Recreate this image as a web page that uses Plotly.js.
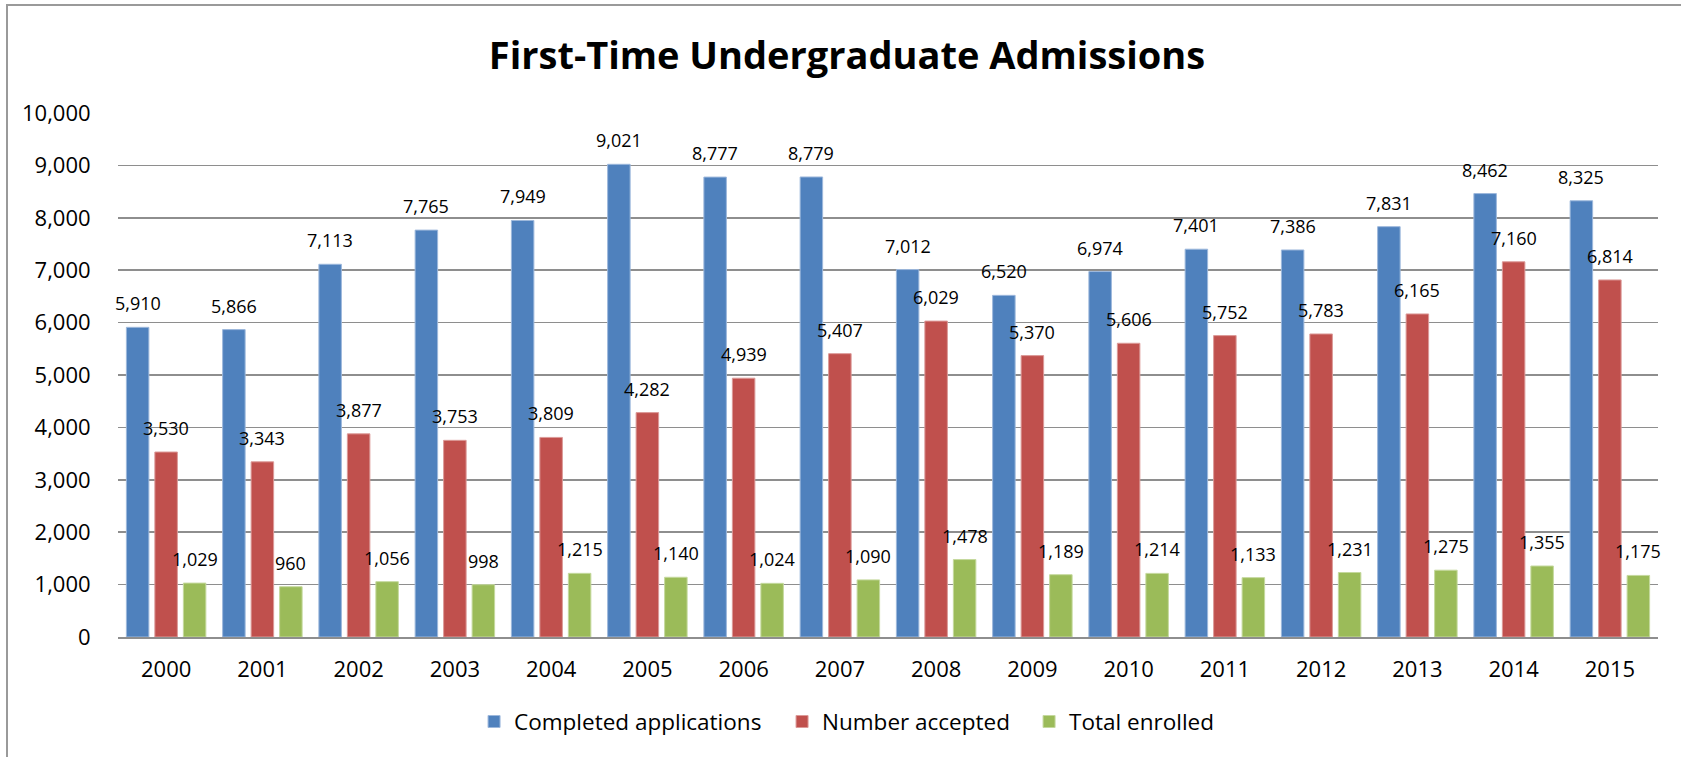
<!DOCTYPE html>
<html>
<head>
<meta charset="utf-8">
<script src="https://cdn.plot.ly/plotly-3.0.1.min.js"></script>
<style>
  html, body { margin: 0; padding: 0; background: #fff; overflow: hidden; }
  #chart { width: 1681px; height: 757px; }
  #frame { position: absolute; left: 6px; top: 4px; width: 2000px; height: 2000px;
           border-left: 2px solid #9a9a9a; border-top: 2px solid #9a9a9a; pointer-events: none; }
</style>
</head>
<body>
<div id="chart"></div>
<div id="frame"></div>
<script>
const years = ['2000','2001','2002','2003','2004','2005','2006','2007','2008','2009','2010','2011','2012','2013','2014','2015'];
const completed = [5910, 5866, 7113, 7765, 7949, 9021, 8777, 8779, 7012, 6520, 6974, 7401, 7386, 7831, 8462, 8325];
const accepted  = [3530, 3343, 3877, 3753, 3809, 4282, 4939, 5407, 6029, 5370, 5606, 5752, 5783, 6165, 7160, 6814];
const enrolled  = [1029, 960, 1056, 998, 1215, 1140, 1024, 1090, 1478, 1189, 1214, 1133, 1231, 1275, 1355, 1175];
const seriesNames = ['Completed applications', 'Number accepted', 'Total enrolled'];
const yTicks = [0, 1000, 2000, 3000, 4000, 5000, 6000, 7000, 8000, 9000, 10000];

const FONT = '"Open Sans", "Noto Sans", sans-serif';
const colors = ['#4F81BD', '#C0504D', '#9BBB59'];
const edges  = ['#9db8dc', '#dc9a98', '#c5d99e'];
const seriesData = [completed, accepted, enrolled];
const legendIds = ['legend', 'legend2', 'legend3'];
const legendX = [0.2312, 0.4312, 0.5916];

const traces = seriesData.map((vals, i) => ({
  type: 'bar',
  name: seriesNames[i],
  legend: legendIds[i],
  x: years,
  y: vals,
  marker: { color: colors[i], line: { color: edges[i], width: 1 } },
  hoverinfo: 'x+y+name'
}));

// data labels through the axes (category index), shifted to each bar of the group
const slot = 28.5;
const annotations = [];
seriesData.forEach((vals, i) => {
  vals.forEach((v, j) => {
    annotations.push({
      x: j, y: v, xref: 'x', yref: 'y',
      text: v.toLocaleString('en-US'),
      showarrow: false,
      xanchor: 'center', yanchor: 'bottom',
      xshift: (i - 1) * slot,
      yshift: 10,
      font: { family: FONT, size: 18, color: '#000' }
    });
  });
});

const layout = {
  width: 1681, height: 757,
  margin: { l: 118, r: 23, t: 113, b: 120 },
  paper_bgcolor: '#fff', plot_bgcolor: '#fff',
  font: { family: FONT, color: '#000' },
  title: {
    text: 'First-Time Undergraduate Admissions',
    font: { family: FONT, size: 38, color: '#000', weight: 'bold' },
    xref: 'paper', x: 0.4734, xanchor: 'center',
    yref: 'container', y: 0.926, yanchor: 'middle'
  },
  barmode: 'group',
  bargap: 0.112,
  bargroupgap: 0.21,
  xaxis: {
    type: 'category',
    range: [-0.5, years.length - 0.5],
    tickfont: { family: FONT, size: 22, color: '#000' },
    ticks: 'outside', ticklen: 12, tickcolor: 'rgba(0,0,0,0)',
    showgrid: false, showline: true, linecolor: '#8e8e8e', linewidth: 2,
    fixedrange: true
  },
  yaxis: {
    range: [0, 10000],
    tickvals: yTicks,
    tickformat: ',',
    tickfont: { family: FONT, size: 22, color: '#000' },
    ticks: 'outside', ticklen: 22, tickcolor: 'rgba(0,0,0,0)',
    showgrid: true, gridcolor: '#8e8e8e', gridwidth: 1.5,
    zeroline: false, showline: false,
    fixedrange: true
  },
  showlegend: true,
  annotations: annotations
};

legendIds.forEach((id, i) => {
  layout[id] = {
    orientation: 'h',
    xref: 'paper', x: legendX[i], xanchor: 'left',
    yref: 'paper', y: -0.162, yanchor: 'middle',
    font: { family: FONT, size: 22.5, color: '#000' },
    bgcolor: 'rgba(0,0,0,0)'
  };
});

Plotly.newPlot('chart', traces, layout, { displayModeBar: false, staticPlot: true });
</script>
</body>
</html>
